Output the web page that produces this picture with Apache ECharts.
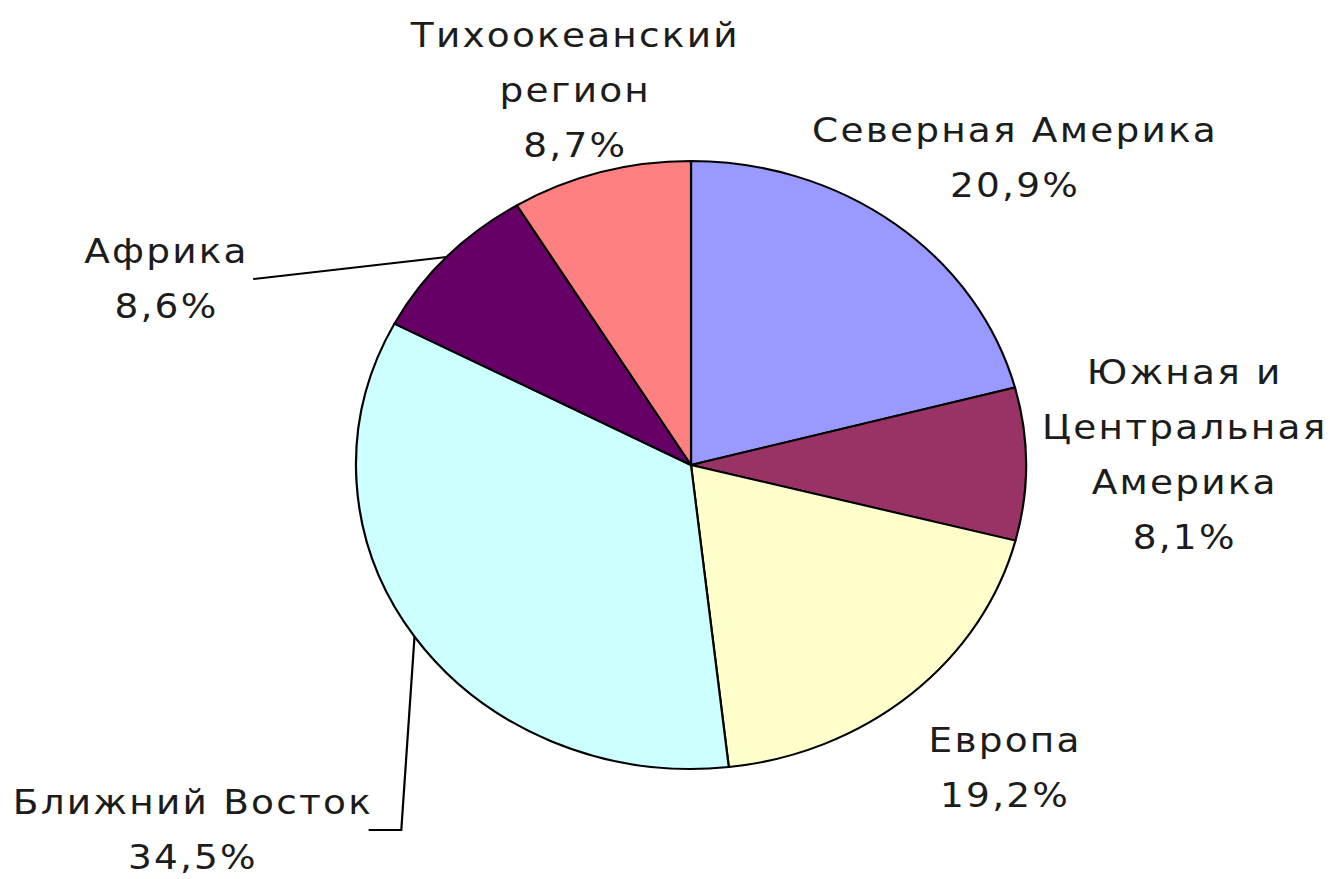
<!DOCTYPE html>
<html lang="ru">
<head>
<meta charset="utf-8">
<title>Регионы</title>
<script src="https://cdn.jsdelivr.net/npm/echarts/dist/echarts.min.js"></script>
<style>
  html, body { margin: 0; padding: 0; background: #fff; }
  /* the original pie is a little wider than tall, so stretch the chart sideways */
  #main { width: 1330px; height: 879px; transform: scaleX(1.102); transform-origin: 691px 465px; }
  /* the labels in the original are loosely spaced */
  #main text { letter-spacing: 2px; }
</style>
</head>
<body>
<div id="main"></div>
<script>
  // regions clockwise from 12 o'clock
  let regions = ['Северная Америка', 'Южная и\nЦентральная\nАмерика', 'Европа', 'Ближний Восток', 'Африка', 'Тихоокеанский\nрегион'];
  let shares = [20.9, 8.1, 19.2, 34.5, 8.6, 8.7];
  let colors = ['#9999ff', '#993366', '#ffffcc', '#ccffff', '#660066', '#ff8080'];

  // label centres (chart coords, before the stretch) and leader type
  let labelSpots = [
    {x: 985, y: 158, leader: null},
    {x: 1139, y: 455, leader: null},
    {x: 976, y: 768, leader: null},
    {x: 239, y: 830, leader: 'elbow'},
    {x: 215, y: 279, leader: 'straight'},
    {x: 586, y: 90, leader: null}
  ];

  let main = echarts.init(document.getElementById('main'), null, {renderer: 'svg'});
  let option = {
    animation: false,
    series: [{
      type: 'pie',
      center: [691, 465],
      radius: 304,
      startAngle: 90,
      clockwise: true,
      avoidLabelOverlap: false,
      emphasis: {disabled: true},
      itemStyle: {borderColor: '#000', borderWidth: 2},
      label: {
        show: true,
        position: 'outside',
        fontFamily: 'DejaVu Sans',
        fontSize: 34,
        lineHeight: 55,
        color: '#1c1c1c',
        formatter: function (p) {
          return p.name + '\n' + p.value.toFixed(1).replace('.', ',') + '%';
        }
      },
      labelLine: {show: true, lineStyle: {color: '#000', width: 2}},
      labelLayout: function (p) {
        let spot = labelSpots[p.dataIndex];
        let out = {x: spot.x, y: spot.y, align: 'center', verticalAlign: 'middle'};
        if (spot.leader && p.labelLinePoints) {
          let start = [p.labelLinePoints[0][0], p.labelLinePoints[0][1]];
          let endX = spot.x + p.labelRect.width / 2 + 10;
          if (spot.leader === 'straight') {
            out.labelLinePoints = [start, [endX, spot.y]];
          } else {
            out.labelLinePoints = [start, [start[0] - 12, spot.y], [endX, spot.y]];
          }
        }
        return out;
      },
      data: regions.map(function (name, i) {
        return {
          name: name,
          value: shares[i],
          itemStyle: {color: colors[i]},
          labelLine: {show: !!labelSpots[i].leader}
        };
      })
    }]
  };
  main.setOption(option);
</script>
</body>
</html>
